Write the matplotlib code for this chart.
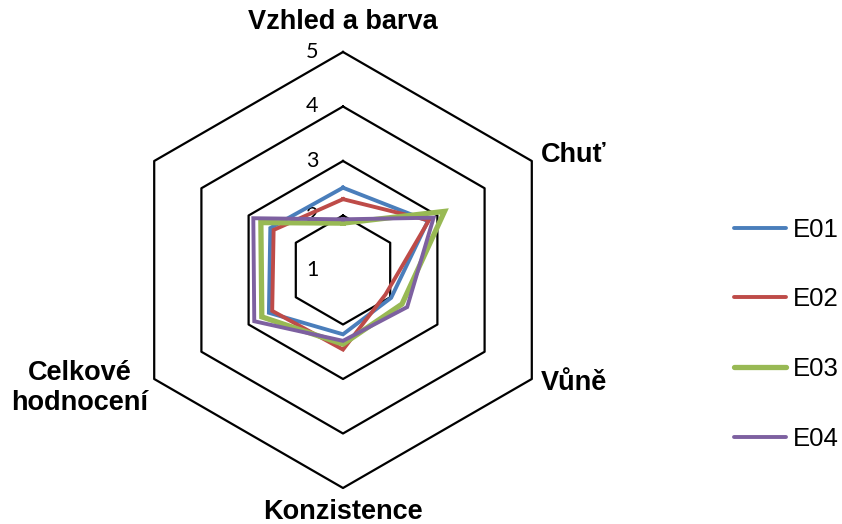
import numpy as np
import matplotlib
matplotlib.use('Agg')
import matplotlib.pyplot as plt

# categories, clockwise from the top (last axis has no label)
categories = ['Vzhled a barva', 'Chuť', 'Vůně', 'Konzistence', 'Celkové\nhodnocení', '']
series = ['E01', 'E02', 'E03', 'E04']
e01 = [2.51, 2.80, 2.02, 2.18, 2.57, 2.54]
e02 = [2.30, 2.82, 1.90, 2.46, 2.50, 2.47]
e03 = [1.86, 3.15, 2.25, 2.36, 2.72, 2.74]
e04 = [1.93, 2.92, 2.36, 2.30, 2.88, 2.90]
levels = [1, 2, 3, 4, 5]

colors = ['#4a7ebb', '#be4b48', '#98b954', '#7d60a0']
widths = [2.8, 2.8, 3.8, 2.8]

vmin = 1
px = 54.5  # pixels per unit
cx, cy = 343, 270
W, H = 842, 524

fig = plt.figure(figsize=(W / 100, H / 100), dpi=100)
ax = fig.add_axes([0, 0, 1, 1])
ax.set_xlim(-cx / px, (W - cx) / px)
ax.set_ylim(-(H - cy) / px, cy / px)
ax.set_aspect('equal')
ax.axis('off')

n = len(categories)
ang = np.deg2rad(90 - 360 / n * np.arange(n))


def poly(vals):
    r = np.asarray(vals, dtype=float) - vmin
    x = r * np.cos(ang)
    y = r * np.sin(ang)
    return np.append(x, x[0]), np.append(y, y[0])


# hexagon grid
for lv in levels[1:]:
    gx, gy = poly([lv] * n)
    ax.plot(gx, gy, color='black', lw=1.6, zorder=1)

# tick labels
for lv in levels:
    ax.text(-0.56, lv - vmin, str(lv), ha='center', va='center',
            fontsize=15.5, family='Lato', zorder=2)

data = [e01, e02, e03, e04]
for name, vals, c, w in zip(series, data, colors, widths):
    x, y = poly(vals)
    ax.plot(x, y, color=c, lw=w, label=name, zorder=3,
            solid_joinstyle='miter')

# category labels
lab_font = dict(fontsize=19.5, fontweight='bold', family='Liberation Sans')
ax.text(0, (cy - 22) / px, categories[0], ha='center', va='center', **lab_font)
ax.text((541 - cx) / px, (cy - 155) / px, categories[1], ha='left', va='center', **lab_font)
ax.text((541 - cx) / px, (cy - 383) / px, categories[2], ha='left', va='center', **lab_font)
ax.text(0, (cy - 512) / px, categories[3], ha='center', va='center', **lab_font)
ax.text((80 - cx) / px, (cy - 388) / px, categories[4], ha='center', va='center',
        linespacing=1.2, **lab_font)

leg = ax.legend(loc='center left', bbox_to_anchor=(0.857, 0.362), frameon=False,
                prop={'family': 'Liberation Sans', 'size': 18.5},
                handlelength=2.0, handletextpad=0.28, labelspacing=1.78,
                borderpad=0)
for line in leg.get_lines():
    line.set_solid_capstyle('round')

fig.savefig('out.png', dpi=100)
